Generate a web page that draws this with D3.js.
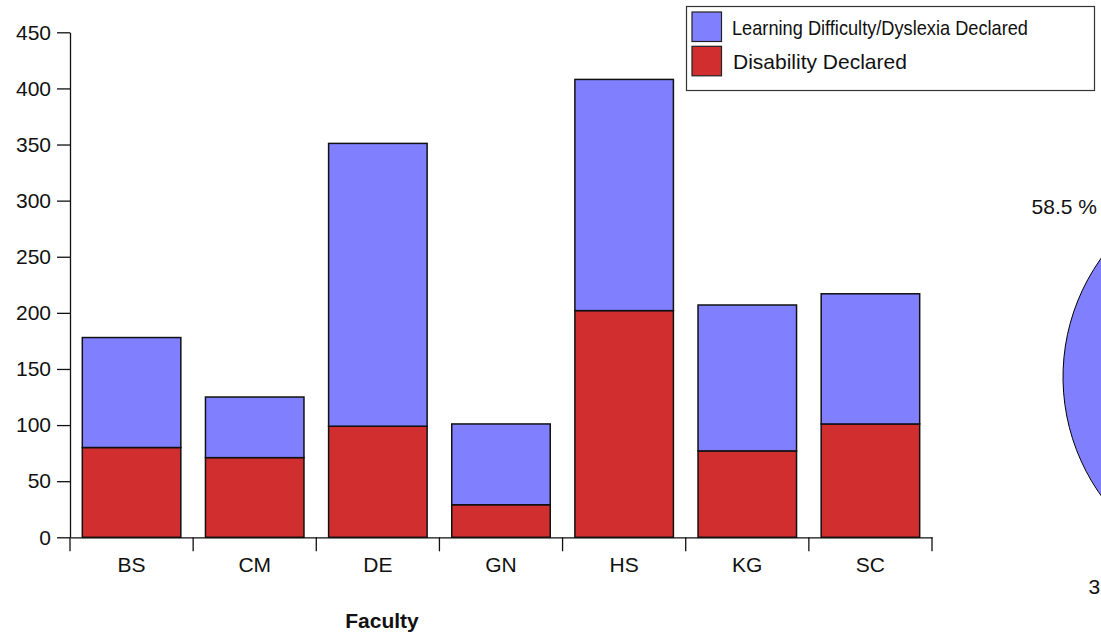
<!DOCTYPE html>
<html>
<head>
<meta charset="utf-8">
<script src="https://cdn.jsdelivr.net/npm/d3@7"></script>
<style>
  html, body { margin: 0; padding: 0; background: #fff; }
  svg { display: block; font-family: "Liberation Sans", Arial, sans-serif; }
</style>
</head>
<body>
<svg id="chart" width="1101" height="642"></svg>
<script>
// ---- Data ----
const categories = ["BS", "CM", "DE", "GN", "HS", "KG", "SC"];
const disabilityDeclared = [80, 71, 99, 29, 202, 77, 101];
const learningDifficulty = [98, 54, 252, 72, 206, 130, 116];
const yTicks = [0, 50, 100, 150, 200, 250, 300, 350, 400, 450];
const seriesNames = ["Learning Difficulty/Dyslexia Declared", "Disability Declared"];
const pieValues = [58.5, 38.5, 3.0];
const pieLabels = ["58.5 %", "38.5 %"];

// ---- Styles ----
const BLUE = "#8080FF", RED = "#D12F2F";
const FONT = 21;

const svg = d3.select("#chart");
const plotLeft = 70, plotRight = 932, plotTop = 32.3, plotBottom = 537.3;

const rows = categories.map((c, i) => ({
  cat: c, dis: disabilityDeclared[i], ld: learningDifficulty[i]
}));

const x = d3.scaleBand().domain(categories).range([plotLeft, plotRight])
  .paddingInner(0.2).paddingOuter(0.1);
const y = d3.scaleLinear().domain([0, 450]).range([plotBottom, plotTop]);

// ---- Pie (partially off-canvas) ----
const pieG = svg.append("g").attr("transform", "translate(1267,377)");
const pie = d3.pie().sort(null).startAngle(Math.PI).endAngle(3 * Math.PI);
const arc = d3.arc().innerRadius(0).outerRadius(204);
const pieColors = [BLUE, RED, "#f0c040"];
pieG.selectAll("path").data(pie(pieValues)).join("path")
  .attr("d", arc)
  .attr("fill", (d, i) => pieColors[i])
  .attr("stroke", "#000").attr("stroke-width", 1);

// pie labels
const pieLabelPos = [
  {x: 1097, y: 214, anchor: "end"},
  {x: 1088.5, y: 594, anchor: "start"}
];
svg.selectAll("text.pielabel").data(pieLabels).join("text")
  .attr("class", "pielabel")
  .attr("x", (d, i) => pieLabelPos[i].x)
  .attr("y", (d, i) => pieLabelPos[i].y)
  .attr("text-anchor", (d, i) => pieLabelPos[i].anchor)
  .attr("font-size", FONT)
  .attr("fill", "#111")
  .text(d => d);

// ---- Stacked bars ----
const stack = d3.stack().keys(["dis", "ld"]);
const stacked = stack(rows);
const colors = {dis: RED, ld: BLUE};

svg.append("g").selectAll("g").data(stacked).join("g")
  .attr("fill", d => colors[d.key])
  .selectAll("rect").data(d => d).join("rect")
  .attr("x", d => x(d.data.cat))
  .attr("width", x.bandwidth())
  .attr("y", d => y(d[1]))
  .attr("height", d => y(d[0]) - y(d[1]))
  .attr("stroke", "#111")
  .attr("stroke-width", 1.5);

// ---- Y axis ----
const yAxis = svg.append("g").attr("transform", `translate(${plotLeft},0)`)
  .call(d3.axisLeft(y).tickValues(yTicks).tickSize(13).tickSizeOuter(0).tickPadding(6));
yAxis.selectAll("text").attr("font-size", FONT).attr("font-family", "Liberation Sans, Arial, sans-serif").attr("fill", "#111");
yAxis.selectAll("line, path").attr("stroke", "#111").attr("stroke-width", 1.3);

// ---- X axis ----
const xAxis = svg.append("g").attr("transform", `translate(0,${plotBottom})`)
  .call(d3.axisBottom(x).tickSize(0).tickSizeOuter(0).tickPadding(20));
xAxis.selectAll("text").attr("font-size", FONT).attr("font-family", "Liberation Sans, Arial, sans-serif").attr("fill", "#111");
xAxis.select("path.domain").attr("stroke", "#111").attr("stroke-width", 1.3);
const step = x.step();
xAxis.selectAll("line.boundary").data(d3.range(categories.length + 1)).join("line")
  .attr("class", "boundary")
  .attr("x1", i => plotLeft + i * step).attr("x2", i => plotLeft + i * step)
  .attr("y1", 0).attr("y2", 14)
  .attr("stroke", "#111").attr("stroke-width", 1.3);

// x title
svg.append("text")
  .attr("x", 382).attr("y", 628)
  .attr("text-anchor", "middle")
  .attr("font-size", FONT).attr("font-weight", "bold")
  .attr("fill", "#111")
  .text("Faculty");

// ---- Legend ----
const legend = svg.append("g");
legend.append("rect")
  .attr("x", 686.5).attr("y", 6.5).attr("width", 408).attr("height", 84)
  .attr("fill", "#fff").attr("stroke", "#333").attr("stroke-width", 1.2);
const legendColors = [BLUE, RED];
const li = legend.selectAll("g.item").data(seriesNames).join("g").attr("class", "item");
li.append("rect")
  .attr("x", 692).attr("y", (d, i) => 12 + i * 34.3)
  .attr("width", 29.5).attr("height", 29.5)
  .attr("fill", (d, i) => legendColors[i])
  .attr("stroke", "#222").attr("stroke-width", 1.2);
li.append("text")
  .attr("x", (d, i) => i === 0 ? 732 : 733)
  .attr("y", (d, i) => i === 0 ? 35 : 68.5)
  .attr("font-size", FONT)
  .attr("fill", "#111")
  .each(function(d, i) {
    if (i === 0) d3.select(this).attr("textLength", 296).attr("lengthAdjust", "spacingAndGlyphs");
  })
  .text(d => d);
</script>
</body>
</html>
